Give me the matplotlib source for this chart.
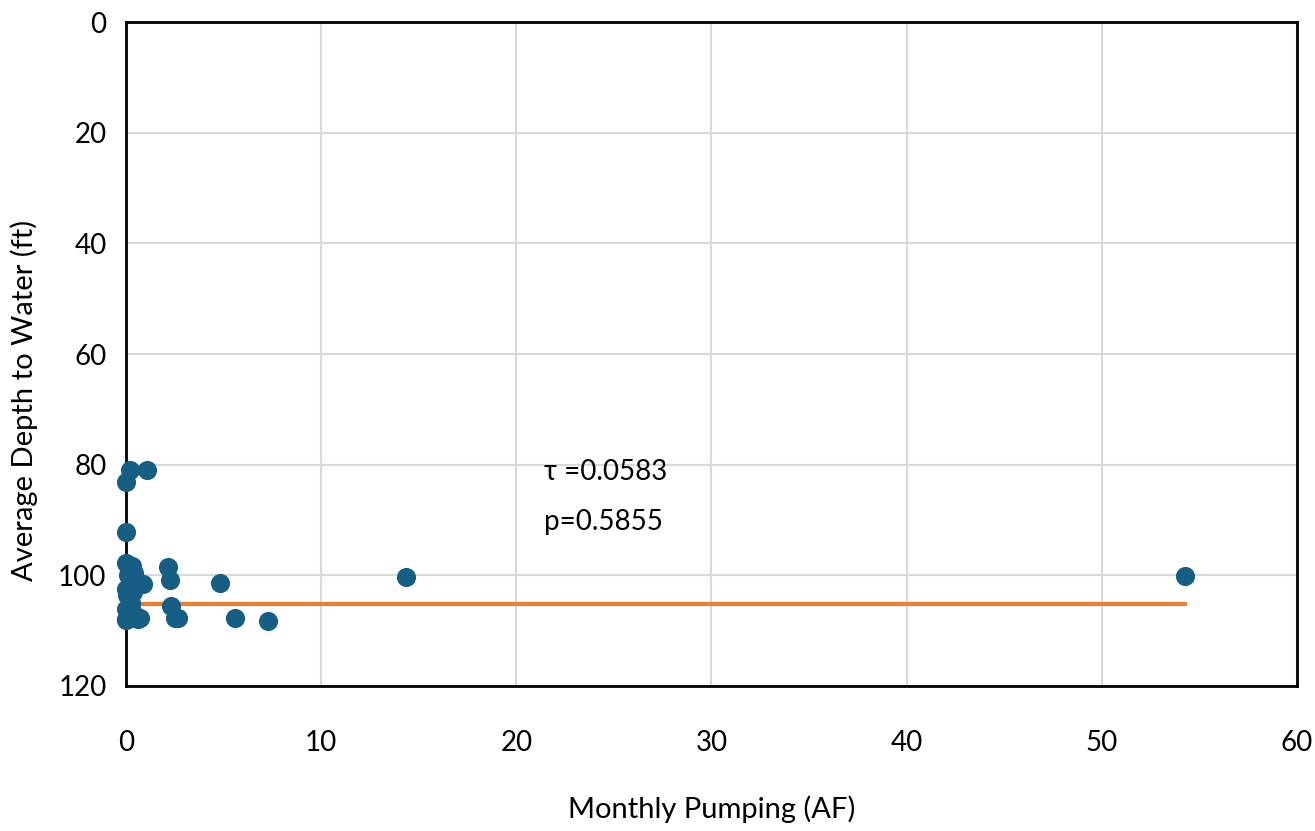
import matplotlib
matplotlib.use("Agg")
import matplotlib.pyplot as plt

plt.rcParams['font.family'] = ['Lato', 'DejaVu Sans']

pumping = [0.2, 1.08, 0.0, 0.0, 0.0, 2.15, 0.3, 2.25, 0.87, 4.8, 14.35, 54.25,
           0.35, 2.3, 2.5, 2.65, 5.6, 7.3, 0.7, 0.0, 0.0, 0.1, 0.2, 0.4,
           0.0, 0.15, 0.25, 0.5, 0.0, 0.1, 0.3, 0.05, 0.6, 0.45]
depth = [81.0, 81.0, 83.1, 92.2, 97.8, 98.5, 98.3, 100.8, 101.5, 101.4, 100.3, 100.1,
         103.0, 105.5, 107.7, 107.7, 107.7, 108.3, 107.7, 107.9, 106.0, 100.0, 101.0, 99.5,
         102.5, 104.0, 105.0, 107.8, 108.0, 107.5, 106.5, 103.5, 107.9, 102.0]

trend_x = [0.0, 54.25]
trend_y = [105.2, 105.2]

tau_text = "τ =0.0583"
p_text = "p=0.5855"

fig = plt.figure(figsize=(13.15, 8.31), dpi=100)
ax = fig.add_axes([0.0958, 0.1745, 0.8905, 0.799])

ax.plot(trend_x, trend_y, color='#ED7D31', lw=3, zorder=2)
ax.scatter(pumping, depth, s=190, color='#165E83', zorder=3, clip_on=False, linewidths=0)

ax.set_xlim(0, 60)
ax.set_ylim(120, 0)
ax.set_xticks(range(0, 61, 10))
ax.set_yticks(range(0, 121, 20))
ax.grid(True, color='#D9D9D9', lw=1.5, zorder=0)
ax.set_axisbelow(True)
for s in ax.spines.values():
    s.set_color('black')
    s.set_linewidth(2)
ax.tick_params(axis='both', length=0, labelsize=20)
ax.tick_params(axis='x', pad=32)
ax.tick_params(axis='y', pad=14)

ax.set_xlabel("Monthly Pumping (AF)", fontsize=21, labelpad=28)
ax.set_ylabel("Average Depth to Water (ft)", fontsize=21, va='center')
ax.yaxis.set_label_coords(-0.087, 0.43)

ax.text(21.4, 81.3, tau_text, fontsize=20, va='center', ha='left')
ax.text(21.4, 90.3, p_text, fontsize=20, va='center', ha='left')

fig.savefig("out.png", dpi=100)
